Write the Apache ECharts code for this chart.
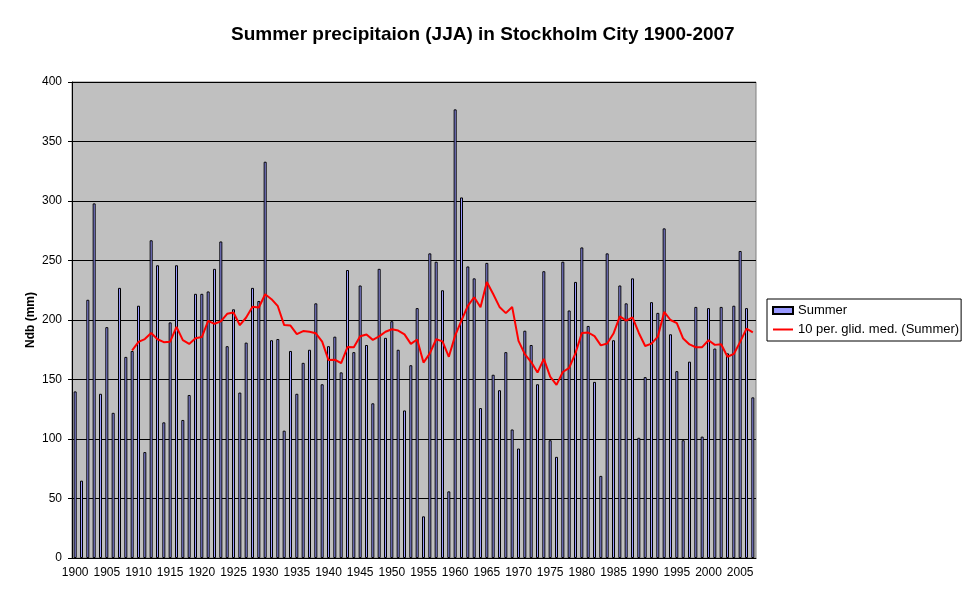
<!DOCTYPE html>
<html>
<head>
<meta charset="utf-8">
<script src="https://cdn.jsdelivr.net/npm/echarts@6/dist/echarts.min.js"></script>
<style>
html,body{margin:0;padding:0;background:#fff;}
#chart{width:970px;height:604px;}
</style>
</head>
<body>
<div id="chart"></div>
<script>
var years = ['1900','1901','1902','1903','1904','1905','1906','1907','1908','1909',
'1910','1911','1912','1913','1914','1915','1916','1917','1918','1919',
'1920','1921','1922','1923','1924','1925','1926','1927','1928','1929',
'1930','1931','1932','1933','1934','1935','1936','1937','1938','1939',
'1940','1941','1942','1943','1944','1945','1946','1947','1948','1949',
'1950','1951','1952','1953','1954','1955','1956','1957','1958','1959',
'1960','1961','1962','1963','1964','1965','1966','1967','1968','1969',
'1970','1971','1972','1973','1974','1975','1976','1977','1978','1979',
'1980','1981','1982','1983','1984','1985','1986','1987','1988','1989',
'1990','1991','1992','1993','1994','1995','1996','1997','1998','1999',
'2000','2001','2002','2003','2004','2005','2006','2007'];

var summer = [140,65,217,298,138,194,122,227,169,174,
212,89,267,246,114,198,246,116,137,222,
222,224,243,266,178,209,139,181,227,216,
333,183,184,107,174,138,164,175,214,146,
178,186,156,242,173,229,179,130,243,185,
199,175,124,162,210,35,256,249,225,56,
377,303,245,235,126,248,154,141,173,108,
92,191,179,146,241,99,85,249,208,232,
261,195,148,69,256,183,229,214,235,101,
152,215,206,277,188,157,99,165,211,102,
210,176,211,172,212,258,210,135];

var yTicks = [0,50,100,150,200,250,300,350,400];

// Excel "10 per. glid. med." trendline: trailing 10-period moving average of the Summer series
var maPeriod = 10;
var movingAvg = summer.map(function (v, i) {
  if (i < maPeriod - 1) return null;
  var s = 0;
  for (var k = i - maPeriod + 1; k <= i; k++) s += summer[k];
  return +(s / maPeriod).toFixed(1);
});

var FONT = '"Liberation Sans", Arial, sans-serif';
var chart = echarts.init(document.getElementById('chart'), null, {renderer: 'canvas'});
chart.setOption({
  animation: false,
  backgroundColor: '#ffffff',
  textStyle: {fontFamily: FONT, color: '#000'},
  title: {
    text: 'Summer precipitaion (JJA) in Stockholm City 1900-2007',
    left: 226, top: 20,
    textStyle: {fontFamily: FONT, fontSize: 19, fontWeight: 'bold', color: '#000'}
  },
  grid: {
    left: 72, right: 214, top: 82, bottom: 46,
    show: true, backgroundColor: '#C0C0C0', borderColor: '#808080', borderWidth: 1
  },
  legend: {
    orient: 'vertical',
    left: 767, top: 299,
    padding: [5, 2, 5, 5],
    itemGap: 6,
    itemWidth: 20, itemHeight: 7,
    borderColor: '#000', borderWidth: 1,
    backgroundColor: '#fff',
    textStyle: {fontFamily: FONT, fontSize: 13, color: '#000'},
    data: [
      {name: 'Summer', icon: 'rect'},
      {name: '10 per. glid. med. (Summer)', itemStyle: {opacity: 0}}
    ]
  },
  xAxis: {
    type: 'category',
    data: years,
    boundaryGap: true,
    axisLine: {lineStyle: {color: '#000', width: 1}},
    axisTick: {interval: 4, length: 4, lineStyle: {color: '#000'}},
    axisLabel: {interval: 4, fontFamily: FONT, fontSize: 12, color: '#000', margin: 9},
    splitLine: {show: false}
  },
  yAxis: {
    type: 'value',
    min: yTicks[0], max: yTicks[yTicks.length - 1], interval: 50,
    name: 'Ndb (mm)',
    nameLocation: 'middle',
    nameRotate: 90,
    nameGap: 35,
    nameMoveOverlap: false,
    nameTextStyle: {fontFamily: FONT, fontSize: 12, fontWeight: 'bold', color: '#000'},
    axisLine: {show: true, lineStyle: {color: '#000', width: 1}},
    axisTick: {show: true, length: 4, lineStyle: {color: '#000'}},
    axisLabel: {fontFamily: FONT, fontSize: 12, color: '#000', margin: 10},
    splitLine: {show: true, lineStyle: {color: '#000', width: 1}}
  },
  series: [
    {
      name: 'Summer',
      type: 'bar',
      data: summer,
      barWidth: 3,
      itemStyle: {color: '#9999FF', borderColor: '#000', borderWidth: 1}
    },
    {
      name: '10 per. glid. med. (Summer)',
      type: 'line',
      data: movingAvg,
      symbol: 'none',
      showSymbol: false,
      connectNulls: false,
      lineStyle: {color: '#FF0000', width: 2},
      itemStyle: {color: '#FF0000'}
    }
  ]
});
</script>
</body>
</html>
